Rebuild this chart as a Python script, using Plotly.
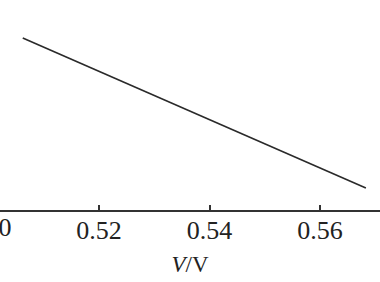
import plotly.graph_objects as go

# data (approximate)
voltage = [0.5062, 0.5683]
yvals = [0.819, 0.105]
tick_vals = [0.50, 0.52, 0.54, 0.56]
tick_text = ["0.50", "0.52", "0.54", "0.56"]

fam = "Liberation Serif, Times New Roman, serif"
tick_font = dict(family=fam, size=26, color="#222222")
title_font = dict(family=fam, size=23, color="#222222")

fig = go.Figure()
fig.add_trace(go.Scatter(x=voltage, y=yvals, mode="lines",
                         line=dict(color="#2a2a2a", width=1.6), showlegend=False))

fig.update_layout(
    width=380, height=282,
    margin=dict(l=0, r=0, t=0, b=72),
    paper_bgcolor="white", plot_bgcolor="white",
    font=tick_font,
    xaxis=dict(range=[0.50208, 0.57086], tickvals=tick_vals, ticktext=tick_text,
               tickfont=tick_font, ticklabelstandoff=-4,
               ticks="inside", ticklen=5, tickwidth=1.5, tickcolor="#333333",
               showline=True, linecolor="#333333", linewidth=1.5,
               showgrid=False, zeroline=False,
               title=dict(text="<i>V</i>/V", font=title_font, standoff=12)),
    yaxis=dict(range=[0, 1], visible=False),
)
# partially visible label of the first tick, cut by the left edge (as in the reference)
fig.add_annotation(x=-11.5 / 380, y=0, xref="paper", yref="paper", text="0.50",
                   xanchor="center", showarrow=False, yanchor="top", yshift=-1,
                   font=tick_font)

fig.write_html("out.html")
